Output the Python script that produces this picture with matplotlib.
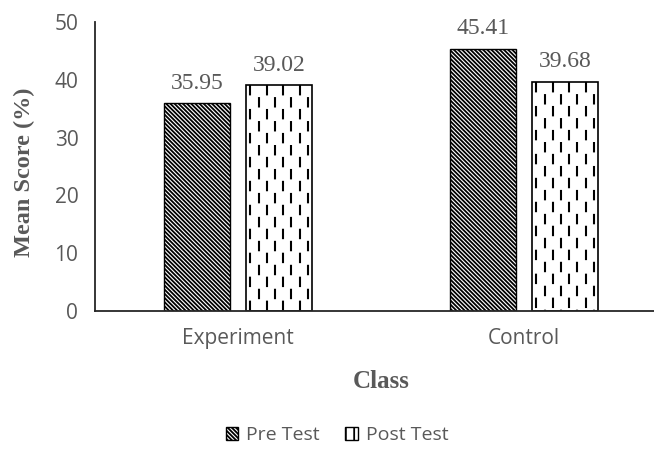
import matplotlib
matplotlib.use("Agg")
import matplotlib.pyplot as plt
import numpy as np
from matplotlib.patches import Patch

categories = ["Experiment", "Control"]
series_names = ["Pre Test", "Post Test"]
pre_test = [35.95, 45.41]
post_test = [39.02, 39.68]
y_ticks = [0, 10, 20, 30, 40, 50]

GRAY = "#595959"
plt.rcParams["hatch.linewidth"] = 1.3

fig = plt.figure(figsize=(6.54, 4.61), dpi=100)
ax = fig.add_axes([95/654, 1 - 311/461, 1 - 95/654, (311 - 22)/461])

x = np.arange(len(categories))
w = 0.23
off = 0.144

bars_pre = ax.bar(x - off, pre_test, w, facecolor="white", edgecolor="black",
                  hatch="\\" * 8, linewidth=1.0, label=series_names[0])
bars_post = ax.bar(x + off, post_test, w, facecolor="white", edgecolor="black",
                   linewidth=1.2, label=series_names[1])

# dashed vertical pattern inside post-test bars
for b in bars_post:
    x0 = b.get_x()
    bw = b.get_width()
    h = b.get_height()
    ncol = 8
    xs = x0 + bw * (np.arange(ncol) + 0.5) / ncol
    for i, xx in enumerate(xs):
        ls = (0 if i % 2 == 0 else 5.7, (5.0, 6.5))
        ln, = ax.plot([xx, xx], [h, 0], color="black", lw=1.5, linestyle=ls,
                      solid_capstyle="butt", dash_capstyle="butt")
        ln.set_clip_path(b)

for bars, vals in ((bars_pre, pre_test), (bars_post, post_test)):
    for b, v in zip(bars, vals):
        ax.text(b.get_x() + b.get_width()/2, v + 1.6, f"{v:.2f}",
                ha="center", va="bottom", fontsize=17,
                family="Liberation Serif", color=GRAY)

ax.set_xlim(-0.5, 1.455)
ax.set_ylim(0, 50)
ax.set_yticks(y_ticks)
ax.set_xticks(x)
ax.set_xticklabels(categories)
ax.tick_params(length=0, labelsize=15, labelcolor=GRAY, pad=12)
ax.tick_params(axis="x", pad=12)
for lab in ax.get_xticklabels() + ax.get_yticklabels():
    lab.set_family("Open Sans")
ax.spines["top"].set_visible(False)
ax.spines["right"].set_visible(False)
ax.spines["left"].set_color("#262626")
ax.spines["bottom"].set_color("#262626")
ax.spines["left"].set_linewidth(1.3)
ax.spines["bottom"].set_linewidth(1.3)

fig.text(24/654, 1 - 172/461, "Mean Score (%)", rotation=90, ha="center", va="center",
         fontsize=17.5, fontweight="bold", family="Liberation Serif", color=GRAY)
fig.text(381/654, 1 - 381/461, "Class", ha="center", va="center",
         fontsize=18, fontweight="bold", family="Liberation Serif", color=GRAY)

handles = [Patch(facecolor="white", edgecolor="black", hatch="\\" * 8, label=series_names[0]),
           Patch(facecolor="white", edgecolor="black", hatch="||", label=series_names[1])]
leg = fig.legend(handles=handles, loc="center", bbox_to_anchor=(337/654, 1 - 435/461),
                 ncol=2, frameon=False, handlelength=0.65, handleheight=0.65,
                 handletextpad=0.4, columnspacing=1.3,
                 prop={"family": "Open Sans", "size": 14})
for t in leg.get_texts():
    t.set_color(GRAY)

fig.savefig("out.png", dpi=100)
